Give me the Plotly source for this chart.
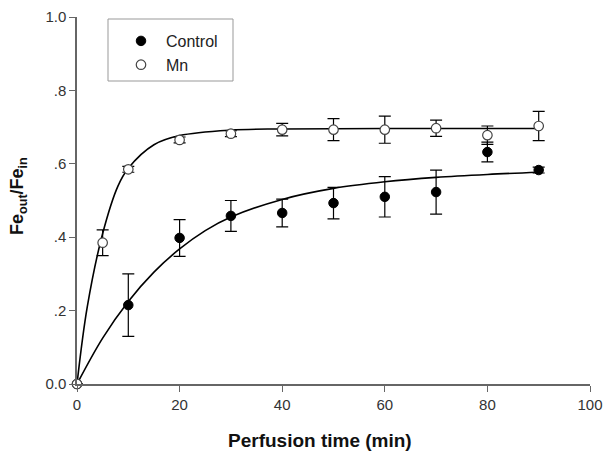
import plotly.graph_objects as go

# Data
time_ctrl = [0, 10, 20, 30, 40, 50, 60, 70, 80, 90]
ctrl_mean = [0.0, 0.215, 0.398, 0.458, 0.466, 0.493, 0.510, 0.523, 0.632, 0.583]
ctrl_err = [0.0, 0.085, 0.050, 0.042, 0.038, 0.043, 0.055, 0.060, 0.027, 0.008]

time_mn = [0, 5, 10, 20, 30, 40, 50, 60, 70, 80, 90]
mn_mean = [0.0, 0.385, 0.585, 0.665, 0.682, 0.693, 0.693, 0.693, 0.697, 0.678, 0.703]
mn_err = [0.0, 0.035, 0.008, 0.008, 0.008, 0.017, 0.030, 0.037, 0.022, 0.025, 0.040]

# Fitted curves
fit_ctrl_t = [0, 5, 10, 15, 20, 25, 30, 40, 50, 60, 70, 80, 90]
fit_ctrl_y = [0.0, 0.125, 0.225, 0.305, 0.368, 0.418, 0.455, 0.503, 0.533, 0.551, 0.563, 0.571, 0.577]

fit_mn_t = [0, 2, 5, 8, 10, 15, 20, 30, 40, 60, 90]
fit_mn_y = [0.0, 0.21, 0.41, 0.54, 0.588, 0.652, 0.677, 0.692, 0.695, 0.696, 0.696]

x_ticks = [0, 20, 40, 60, 80, 100]
y_ticks = [0.0, 0.2, 0.4, 0.6, 0.8, 1.0]
y_ticktext = ["0.0", ".2", ".4", ".6", ".8", "1.0"]

fig = go.Figure()

fig.add_trace(go.Scatter(x=fit_ctrl_t, y=fit_ctrl_y, mode="lines", line=dict(color="black", width=1.6, shape="spline"),
                         showlegend=False, hoverinfo="skip", cliponaxis=False))
fig.add_trace(go.Scatter(x=fit_mn_t, y=fit_mn_y, mode="lines", line=dict(color="black", width=1.6, shape="spline"),
                         showlegend=False, hoverinfo="skip", cliponaxis=False))

fig.add_trace(go.Scatter(x=time_ctrl, y=ctrl_mean, mode="markers", name="Control",
                         marker=dict(symbol="circle", size=9.5, color="black", line=dict(color="black", width=1)),
                         error_y=dict(type="data", array=ctrl_err, color="black", thickness=1.2, width=6),
                         cliponaxis=False))
fig.add_trace(go.Scatter(x=time_mn, y=mn_mean, mode="markers", name="Mn",
                         marker=dict(symbol="circle", size=9.5, color="white", line=dict(color="#444", width=1.2)),
                         error_y=dict(type="data", array=mn_err, color="black", thickness=1.2, width=6),
                         cliponaxis=False))

# legend frame (page px -> paper coords; plot area spans x 77..590, y 17..384)
fig.add_shape(type="rect", xref="paper", yref="paper",
              x0=(108 - 77) / 513, x1=(233 - 77) / 513,
              y0=(384 - 81) / 367, y1=(384 - 19) / 367,
              line=dict(color="#999", width=1), fillcolor="rgba(0,0,0,0)", layer="below")

# page body has an 8px margin, so the figure is sized/offset to compensate
fig.update_layout(
    width=604, height=459,
    margin=dict(l=69, r=22, t=9, b=83),
    paper_bgcolor="white", plot_bgcolor="white",
    font=dict(family="Liberation Sans, Arial, sans-serif", color="#222"),
    legend=dict(x=(116 - 77) / 513, y=(384 - 24) / 367, xanchor="left", yanchor="top",
                borderwidth=0, bgcolor="rgba(0,0,0,0)",
                font=dict(size=16, color="#222"), itemwidth=40,
                tracegroupgap=0),
    xaxis=dict(range=[0, 100], tickvals=x_ticks, showgrid=False, zeroline=False, automargin=False,
               showline=True, linecolor="#666", linewidth=1.5, ticks="outside", ticklen=6,
               tickcolor="#666", tickfont=dict(size=15, color="#333")),
    yaxis=dict(range=[0, 1.0], tickvals=y_ticks, ticktext=y_ticktext, showgrid=False, zeroline=False, automargin=False,
               showline=True, linecolor="#666", linewidth=1.5, ticks="outside", ticklen=6,
               tickcolor="#666", tickfont=dict(size=15, color="#333")),
    annotations=[
        dict(text="<b>Perfusion time (min)</b>", xref="paper", yref="paper",
             x=(320 - 77) / 513, y=(384 - 440) / 367, xanchor="center", yanchor="middle",
             showarrow=False, font=dict(size=19, color="#111")),
        dict(text="<b>Fe<sub>out</sub>/Fe<sub>in</sub></b>", xref="paper", yref="paper",
             x=(18 - 77) / 513, y=(384 - 196) / 367, xanchor="center", yanchor="middle", textangle=-90,
             showarrow=False, font=dict(size=18, color="#111")),
    ],
)

fig.write_html("out.html")
